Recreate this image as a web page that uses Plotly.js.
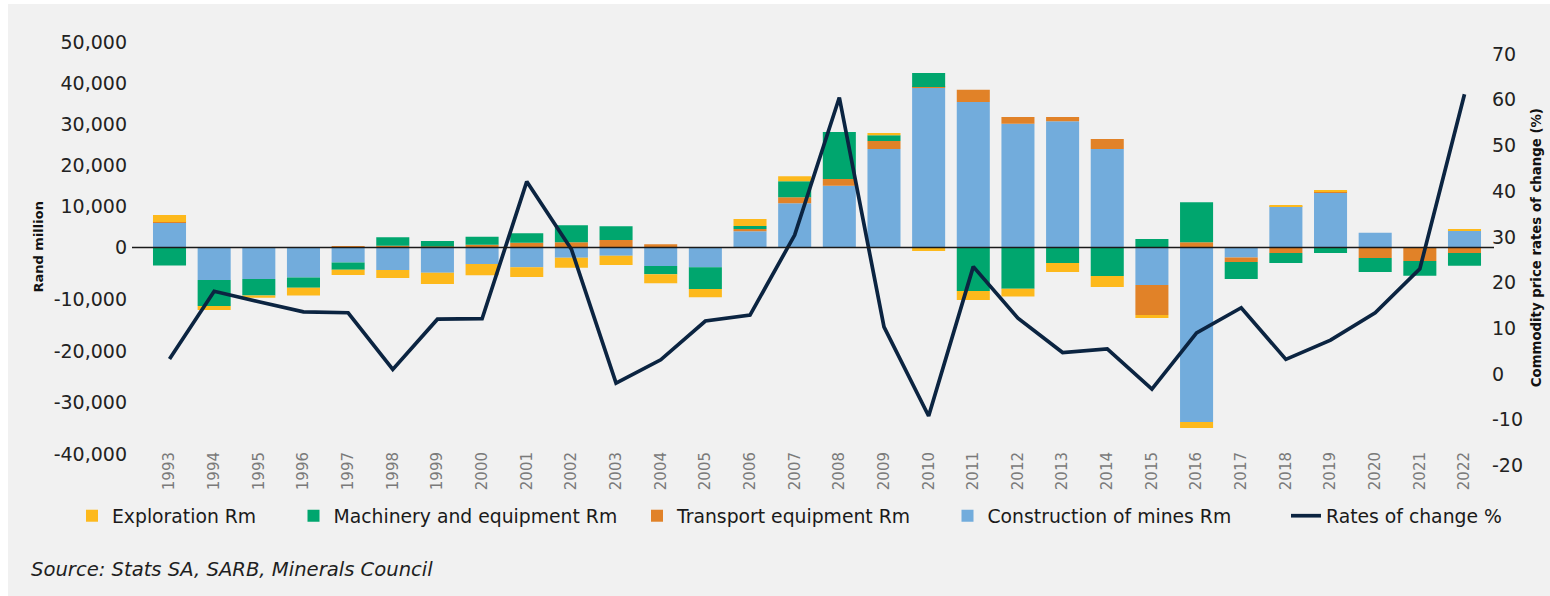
<!DOCTYPE html>
<html>
<head>
<meta charset="utf-8">
<script src="https://cdn.plot.ly/plotly-3.0.1.min.js"></script>
<style>
  html, body { margin: 0; padding: 0; background: #ffffff; }
  #chart { position: absolute; left: 8px; top: 4px; width: 1542px; height: 592px; }
</style>
</head>
<body>
<div id="chart"></div>
<script>
// ---- Data (Rand million) ----
const years = ['1993','1994','1995','1996','1997','1998','1999','2000','2001','2002',
               '2003','2004','2005','2006','2007','2008','2009','2010','2011','2012',
               '2013','2014','2015','2016','2017','2018','2019','2020','2021','2022'];
const construction = [6000, -6300, -6100, -5800, -2900, -4350, -4900, -3200, -3800, -2000,
                      -1600, -3600, -3800, 3950, 10800, 15050, 24000, 39000, 35500, 30200,
                      30800, 24000, -7250, -33750, -1950, 10100, 13350, 3600, 0, 4250];
const transport    = [250, 0, 0, 0, 350, 400, 250, 700, 1150, 1300,
                      1800, 800, 0, 550, 1450, 1650, 1950, 150, 2950, 1650,
                      1000, 2450, -5800, 1300, -850, -1050, 400, -2050, -2600, -1050];
const machinery    = [-3500, -5000, -3200, -2000, -1400, 2100, 1350, 1900, 2350, 4150,
                      3400, -1550, -4250, 750, 3900, 11450, 1450, 3400, -8400, -8000,
                      -3000, -5500, 2050, 9750, -3300, -1950, -1050, -2700, -2850, -2500];
const exploration  = [1700, -800, -400, -1500, -1000, -1550, -2150, -2150, -1900, -1900,
                      -1800, -1750, -1550, 1700, 1200, 0, 500, -700, -1750, -1500,
                      -1750, -2150, -600, -1150, 0, 250, 150, 0, 0, 250];
// Commodity price rates of change (%)
const rates = [3.3, 18.1, 15.8, 13.6, 13.4, 1.0, 12.0, 12.1, 42.1, 27.3,
               -2.0, 3.1, 11.6, 12.9, 30.4, 60.5, 10.3, -9.2, 23.5, 12.2,
               4.7, 5.5, -3.3, 9.0, 14.5, 3.2, 7.4, 13.4, 23.0, 61.2];

// Tick labels
const posTicks = [0, 10000, 20000, 30000, 40000, 50000];
const negTicks = [-10000, -20000, -30000, -40000];
const rightTicks = [-20, -10, 0, 10, 20, 30, 40, 50, 60, 70];

const seriesDefs = [
  {name: 'Construction of mines Rm', values: construction, color: '#72ACDC', legend: 'legend4'},
  {name: 'Transport equipment Rm',   values: transport,    color: '#E18228', legend: 'legend3'},
  {name: 'Machinery and equipment Rm', values: machinery,  color: '#00A66E', legend: 'legend2'},
  {name: 'Exploration Rm',           values: exploration,  color: '#FDB91C', legend: 'legend'}
];

const FONT = 'DejaVu Sans, Arial, sans-serif';
const fmt = v => v.toLocaleString('en-US');

const traces = [];
// positive parts (upper scale)
seriesDefs.forEach(s => {
  traces.push({
    type: 'bar', x: years, y: s.values.map(v => v > 0 ? v : null),
    name: s.name, marker: {color: s.color, line: {width: 0}},
    xaxis: 'x', yaxis: 'y', legendgroup: s.name, legend: s.legend, showlegend: true,
    hovertemplate: '%{x}: %{y:,}<extra>' + s.name + '</extra>'
  });
});
// negative parts (lower scale)
seriesDefs.forEach(s => {
  traces.push({
    type: 'bar', x: years, y: s.values.map(v => v < 0 ? v : null),
    name: s.name, marker: {color: s.color, line: {width: 0}},
    xaxis: 'x', yaxis: 'y2', legendgroup: s.name, legend: s.legend, showlegend: false,
    hovertemplate: '%{x}: %{y:,}<extra>' + s.name + '</extra>'
  });
});
traces.push({
  type: 'scatter', mode: 'lines', x: years, y: rates, name: 'Rates of change %',
  line: {color: '#0B2441', width: 3.7}, xaxis: 'x', yaxis: 'y3', legend: 'legend5',
  hovertemplate: '%{x}: %{y}%<extra></extra>'
});

// geometry (div coordinates)
const W = 1542, H = 592;
const L = 124, R = 63, T = 36, B = 126;
const plotW = W - L - R, plotH = H - T - B;
const zeroPx = 243.5;               // pixel row of the zero line
const upPerPx = 10000 / 41.0;        // upper scale: 41 px per 10,000
const downPerPx = 10000 / 51.7;      // lower scale: 51.7 px per 10,000
const yRange = [-(T + plotH - zeroPx) * upPerPx, (zeroPx - T) * upPerPx];
const y2Range = [-(T + plotH - zeroPx) * downPerPx, (zeroPx - T) * downPerPx];
const rZero = 370, rPerPx = 10 / 45.7;
const y3Range = [-(T + plotH - rZero) * rPerPx, (rZero - T) * rPerPx];

const px2x = p => (p - L) / plotW;
const px2y = p => (T + plotH - p) / plotH;

const legendBase = {
  orientation: 'h', yanchor: 'middle', xanchor: 'left', y: px2y(512),
  bgcolor: 'rgba(0,0,0,0)', font: {family: FONT, size: 18.8, color: '#1a1a1a'}
};
const legendCenters = [84, 305.5, 649, 959.5, 1298];
const legendKeys = ['legend', 'legend2', 'legend3', 'legend4', 'legend5'];

const tickFont = {family: FONT, size: 19, color: '#222222'};

const layout = {
  width: W, height: H,
  margin: {l: L, r: R, t: T, b: B, pad: 0},
  paper_bgcolor: '#F1F1F1', plot_bgcolor: 'rgba(0,0,0,0)',
  barmode: 'relative', bargap: 0.26,
  showlegend: true,
  xaxis: {
    type: 'category', range: [-0.84, 29.504], anchor: 'free', position: px2y(444),
    showgrid: false, zeroline: false, showline: false, ticks: '',
    tickangle: -90, tickfont: {family: FONT, size: 15, color: '#7a7a7a'}
  },
  yaxis: {
    range: yRange, tickvals: posTicks, ticktext: posTicks.map(fmt),
    showgrid: false, zeroline: false, showline: false, ticks: '',
    tickfont: tickFont, ticklabelstandoff: 4
  },
  yaxis2: {
    overlaying: 'y', side: 'left', range: y2Range,
    tickvals: negTicks, ticktext: negTicks.map(fmt),
    showgrid: false, zeroline: false, showline: false, ticks: '',
    tickfont: tickFont, ticklabelstandoff: 4
  },
  yaxis3: {
    overlaying: 'y', side: 'right', range: y3Range,
    tickvals: rightTicks, ticktext: rightTicks.map(String),
    showgrid: false, zeroline: false, showline: false, ticks: '',
    tickfont: tickFont, ticklabelstandoff: 4
  },
  shapes: [{
    type: 'line', xref: 'paper', yref: 'y', x0: px2x(124), x1: px2x(1486), y0: 0, y1: 0,
    line: {color: '#1a1a1a', width: 1.6}, layer: 'above'
  }],
  annotations: [
    {text: 'Rand million', xref: 'paper', yref: 'paper', x: px2x(30), y: px2y(243.5),
     xanchor: 'center', yanchor: 'middle', textangle: -90, showarrow: false,
     font: {family: FONT, size: 13, color: '#111111', weight: 'bold'}},
    {text: 'Commodity price rates of change (%)', xref: 'paper', yref: 'paper',
     x: px2x(1528.7), y: px2y(243.5), xanchor: 'center', yanchor: 'middle', textangle: -90,
     showarrow: false, font: {family: FONT, size: 13.3, color: '#111111', weight: 'bold'}},
    {text: '<i>Source: Stats SA, SARB, Minerals Council</i>', xref: 'paper', yref: 'paper',
     x: px2x(21), y: px2y(565), xanchor: 'left', yanchor: 'middle', showarrow: false,
     font: {family: FONT, size: 19.6, color: '#1f1f1f'}}
  ]
};
legendKeys.forEach((k, i) => {
  layout[k] = Object.assign({}, legendBase, {x: px2x(legendCenters[i] - 20)});
});

Plotly.newPlot('chart', traces, layout, {displayModeBar: false, responsive: false});
</script>
</body>
</html>
